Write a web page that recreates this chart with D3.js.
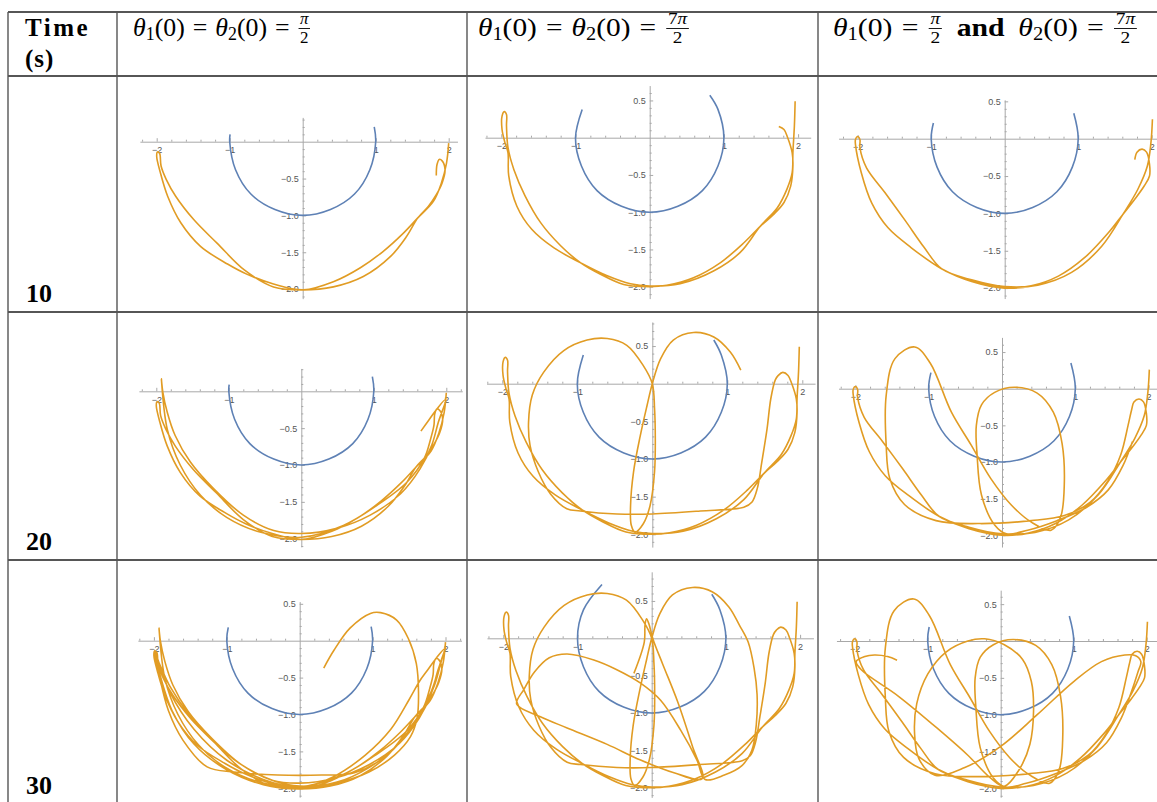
<!DOCTYPE html>
<html>
<head>
<meta charset="utf-8">
<script src="https://cdn.jsdelivr.net/npm/d3@7"></script>
<style>
  body { margin: 0; background: #fff; }
  svg { display: block; }
  .axis text { font-family: "Liberation Sans", Arial, sans-serif; font-size: 9px; fill: #555; }
  .axis path, .axis line { stroke: #a8a8a8; }
</style>
</head>
<body>
<svg id="chart"></svg>
<script>
// ---------- data ----------
const timeLabels = ["10", "20", "30"];

// header cells: [text, style]
const headerCol2 = [["θ","it"],["1","sub"],["(0)",""],["=","rel"],["θ","it"],["2","sub"],["(0)",""],["=","rel"],["π/2","frac"]];
const headerCol3 = [["θ","it"],["1","sub"],["(0)",""],["=","rel"],["θ","it"],["2","sub"],["(0)",""],["=","rel"],["7π/2","frac"]];
const headerCol4 = [["θ","it"],["1","sub"],["(0)",""],["=","rel"],["π/2","frac"],["and","bold"],["θ","it"],["2","sub"],["(0)",""],["=","rel"],["7π/2","frac"]];

// plot ranges of the nine panels (row by row)
const xRanges = [[-2.23,2.12],[-2.22,2.17],[-2.26,2.17],[-2.24,2.22],[-2.21,2.17],[-2.23,2.17],[-2.22,2.22],[-2.22,2.18],[-2.25,2.17]];
const yRanges = [[-2.13,0.33],[-2.16,0.70],[-2.14,0.52],[-2.11,0.31],[-2.17,0.82],[-2.16,0.70],[-2.12,0.53],[-2.13,0.89],[-2.12,0.69]];

// first bob (blue arc), one list per panel
const arcMid = [[-1,0],[-0.92,-0.38],[-0.71,-0.71],[-0.38,-0.92],[0,-1],[0.38,-0.92],[0.71,-0.71],[0.92,-0.38],[1,0]];
const arcEnds = [
  [[[-0.995,0.1]], [[0.98,0.2]]],
  [[[-0.91,0.38]], [[0.92,0.38],[0.81,0.57]]],
  [[[-0.97,0.21]], [[0.94,0.34]]],
  [[[-0.995,0.09]], [[0.98,0.2]]],
  [[[-0.92,0.38]], [[0.92,0.38],[0.82,0.58]]],
  [[[-0.97,0.22]], [[0.94,0.35]]],
  [[[-0.98,0.18]], [[0.98,0.19]]],
  [[[-0.67,0.72],[-0.92,0.38]], [[0.92,0.38],[0.81,0.59]]],
  [[[-0.98,0.19]], [[0.94,0.34]]]
];

// second bob (orange), pieces 0-10 s, 10-20 s, 20-30 s for each column
const pathHalfPi = [
  [[2.00,-0.02],[1.97,-0.29],[1.90,-0.56],[1.79,-0.81],[1.58,-1.03],[1.38,-1.24],[1.10,-1.49],[0.79,-1.71],[0.42,-1.90],[0.01,-2.01],[-0.40,-1.93],[-0.76,-1.80],[-1.03,-1.66],[-1.40,-1.42],[-1.67,-1.10],[-1.85,-0.74],[-1.95,-0.42],[-2.00,-0.20],[-1.99,-0.14],[-1.96,-0.16],[-1.94,-0.33],[-1.87,-0.51],[-1.74,-0.74],[-1.49,-1.06],[-1.17,-1.38],[-0.80,-1.74],[-0.40,-1.97],[0.00,-2.01],[0.42,-1.97],[0.83,-1.83],[1.20,-1.56],[1.42,-1.29],[1.58,-1.03],[1.72,-0.88],[1.83,-0.72],[1.91,-0.56],[1.95,-0.38],[1.91,-0.26],[1.87,-0.24],[1.84,-0.31],[1.83,-0.46]],
  [[1.78,-0.66],[1.70,-0.90],[1.46,-1.23],[1.04,-1.55],[0.58,-1.82],[0.00,-1.98],[-0.57,-1.91],[-1.03,-1.71],[-1.39,-1.41],[-1.67,-1.00],[-1.85,-0.51],[-1.93,0.17],[-1.91,-0.01],[-1.85,-0.28],[-1.74,-0.60],[-1.53,-0.96],[-1.21,-1.32],[-0.80,-1.68],[-0.38,-1.89],[0.00,-1.93],[0.49,-1.86],[0.95,-1.68],[1.37,-1.39],[1.64,-1.05],[1.80,-0.73],[1.89,-0.42],[1.99,-0.11],[1.87,-0.24],[1.76,-0.39],[1.65,-0.54]],
  [[1.50,-0.80],[1.25,-1.20],[0.90,-1.55],[0.45,-1.85],[0.00,-2.00],[-0.50,-1.95],[-1.00,-1.75],[-1.45,-1.40],[-1.75,-0.95],[-1.92,-0.45],[-1.97,-0.22],[-1.93,-0.30],[-1.78,-0.62],[-1.52,-1.00],[-1.20,-1.35],[-0.80,-1.68],[-0.35,-1.90],[0.00,-1.97],[0.50,-1.92],[0.95,-1.72],[1.35,-1.40],[1.65,-1.02],[1.85,-0.60],[1.95,-0.25],[2.00,-0.10],[1.93,-0.30],[1.80,-0.70],[1.55,-1.15],[1.20,-1.55],[0.75,-1.79],[0.30,-1.82],[-0.30,-1.82],[-0.90,-1.78],[-1.27,-1.71],[-1.60,-1.35],[-1.80,-0.95],[-1.93,-0.45],[-1.99,-0.13],[-1.93,-0.30],[-1.78,-0.70],[-1.45,-1.20],[-1.00,-1.62],[-0.50,-1.88],[0.00,-1.99],[0.50,-1.93],[0.95,-1.78],[1.30,-1.55],[1.52,-1.30],[1.61,-1.05],[1.63,-0.71],[1.60,-0.31],[1.49,0.03],[1.33,0.28],[1.11,0.38],[0.97,0.37],[0.69,0.17],[0.47,-0.13],[0.33,-0.37]]
];
const pathSevenHalfPi = [
  [[1.96,0.49],[1.95,0.16],[1.93,-0.20],[1.92,-0.47],[1.85,-0.69],[1.72,-0.94],[1.49,-1.19],[1.22,-1.54],[0.86,-1.79],[0.41,-1.96],[0.00,-1.99],[-0.26,-1.96],[-0.58,-1.85],[-0.93,-1.68],[-1.29,-1.48],[-1.59,-1.23],[-1.79,-0.92],[-1.90,-0.51],[-1.91,-0.20],[-1.95,-0.07],[-1.99,0.11],[-1.99,0.29],[-1.96,0.35],[-1.93,0.31],[-1.93,0.16],[-1.91,-0.13],[-1.83,-0.43],[-1.68,-0.78],[-1.47,-1.14],[-1.20,-1.45],[-0.93,-1.68],[-0.67,-1.83],[-0.35,-1.97],[0.00,-2.00],[0.23,-1.98],[0.59,-1.88],[0.95,-1.68],[1.27,-1.41],[1.49,-1.19],[1.67,-1.03],[1.81,-0.87],[1.90,-0.65],[1.93,-0.38],[1.92,-0.20],[1.86,0.00],[1.81,0.11],[1.74,0.15]],
  [[1.68,0.11],[1.64,0.05],[1.58,-0.20],[1.53,-0.60],[1.46,-1.04],[1.40,-1.39],[1.33,-1.57],[1.22,-1.64],[0.64,-1.69],[0.00,-1.73],[-0.47,-1.73],[-0.96,-1.69],[-1.14,-1.66],[-1.36,-1.46],[-1.52,-1.17],[-1.63,-0.82],[-1.65,-0.51],[-1.60,-0.15],[-1.45,0.15],[-1.18,0.44],[-0.87,0.58],[-0.60,0.60],[-0.34,0.51],[-0.12,0.24],[0.00,0.00],[0.03,-0.33],[0.04,-0.73],[0.03,-1.17],[-0.03,-1.62],[-0.12,-1.86],[-0.23,-1.97],[-0.28,-1.88],[-0.29,-1.62],[-0.25,-1.17],[-0.16,-0.69],[-0.07,-0.29],[0.00,0.00],[0.11,0.33],[0.28,0.58],[0.55,0.68],[0.82,0.62],[1.04,0.42],[1.18,0.18]],
  [[1.30,-0.05],[1.38,-0.40],[1.42,-0.75],[1.41,-1.15],[1.35,-1.50],[1.22,-1.70],[0.98,-1.83],[0.72,-1.89],[0.61,-1.63],[0.39,-1.23],[0.12,-0.83],[-0.15,-0.60],[-0.47,-0.42],[-0.78,-0.29],[-1.14,-0.21],[-1.38,-0.26],[-1.58,-0.45],[-1.72,-0.68],[-1.82,-0.88],[-1.50,-1.05],[-1.14,-1.20],[-0.60,-1.42],[-0.15,-1.63],[0.30,-1.80],[0.68,-1.88],[0.55,-1.45],[0.35,-0.85],[0.15,-0.35],[0.02,-0.02],[-0.04,0.20],[-0.07,0.26],[-0.09,0.18],[-0.10,-0.05],[-0.24,-0.47]]
];
const pathMixed = [
  [[2.01,0.26],[1.99,-0.05],[1.94,-0.37],[1.81,-0.68],[1.61,-1.01],[1.32,-1.44],[0.91,-1.79],[0.45,-1.96],[0.00,-1.98],[-0.45,-1.89],[-0.86,-1.74],[-1.10,-1.45],[-1.35,-1.10],[-1.63,-0.72],[-1.88,-0.39],[-1.97,-0.12],[-1.97,-0.01],[-2.00,0.03],[-2.03,-0.01],[-2.03,-0.08],[-1.95,-0.46],[-1.81,-0.86],[-1.59,-1.19],[-1.27,-1.46],[-0.86,-1.74],[-0.45,-1.91],[0.00,-2.00],[0.36,-1.97],[0.73,-1.84],[1.09,-1.59],[1.41,-1.26],[1.61,-1.01],[1.77,-0.81],[1.90,-0.63],[1.97,-0.50],[1.97,-0.34],[1.93,-0.18],[1.87,-0.14],[1.80,-0.18],[1.77,-0.28]],
  [[1.72,-0.50],[1.62,-0.90],[1.45,-1.25],[1.20,-1.55],[0.85,-1.73],[0.40,-1.80],[-0.30,-1.84],[-0.90,-1.80],[-1.33,-1.58],[-1.53,-1.23],[-1.58,-0.77],[-1.58,-0.09],[-1.46,0.41],[-1.19,0.57],[-0.98,0.35],[-0.69,-0.32],[-0.42,-0.77],[-0.15,-1.23],[0.13,-1.59],[0.40,-1.82],[0.67,-1.93],[0.80,-1.75],[0.85,-1.30],[0.82,-0.75],[0.70,-0.32],[0.48,-0.06],[0.17,0.02],[-0.10,-0.05],[-0.28,-0.22],[-0.35,-0.50],[-0.34,-0.90],[-0.28,-1.45],[-0.10,-1.86],[0.06,-1.98],[0.35,-1.93],[0.75,-1.80],[1.15,-1.62],[1.45,-1.38],[1.65,-1.05],[1.78,-0.72]],
  [[1.88,-0.42],[1.92,-0.28],[1.85,-0.20],[1.70,-0.19],[1.38,-0.28],[1.00,-0.55],[0.50,-1.00],[0.00,-1.43],[-0.50,-1.72],[-0.90,-1.82],[-1.12,-1.60],[-1.18,-1.25],[-1.15,-0.85],[-1.00,-0.45],[-0.75,-0.15],[-0.45,0.00],[-0.22,0.03],[0.05,-0.05],[0.30,-0.25],[0.42,-0.55],[0.45,-0.95],[0.40,-1.40],[0.25,-1.75],[0.05,-1.97],[-0.15,-1.85],[-0.45,-1.55],[-0.85,-1.20],[-1.40,-0.75],[-1.91,-0.39],[-1.98,-0.28],[-1.86,-0.21],[-1.73,-0.19],[-1.55,-0.21],[-1.42,-0.26]]
];
const columnPaths = [pathHalfPi, pathSevenHalfPi, pathMixed];

// ---------- layout ----------
const W = 1157, H = 802;
const colX = [8, 117, 467, 818, 1170];
const rowY = [12, 76, 312, 560, 812];
// origin and unit length (px) of each panel
const panelLayout = [
  {ox: 302.7, oy: 141.7, ux: 73.0, uy: 73.7},
  {ox: 649.7, oy: 137.7, ux: 74.2, uy: 74.5},
  {ox: 1004.7, oy: 138.7, ux: 73.5, uy: 74.7},
  {ox: 301.3, oy: 391.3, ux: 72.5, uy: 73.7},
  {ox: 652.3, oy: 383.7, ux: 75.0, uy: 75.3},
  {ox: 1002.0, oy: 388.7, ux: 73.3, uy: 73.3},
  {ox: 299.7, oy: 640.7, ux: 72.9, uy: 73.8},
  {ox: 651.7, oy: 638.3, ux: 74.2, uy: 74.7},
  {ox: 1000.7, oy: 641.0, ux: 73.0, uy: 73.7}
];
// header start x and width in the picture
const headerBoxes = [[133, 178], [478, 212], [833, 305]];
const blue = "#5e81b5", orange = "#e19c24";
const serif = "'Liberation Serif', 'Times New Roman', serif";

const svg = d3.select("#chart").attr("width", W).attr("height", H);
const defs = svg.append("defs");

// ---------- header text ----------
function drawMath(g, x, y, pieces) {
  let cx = x;
  pieces.forEach(([t, st]) => {
    if (st === "frac") {
      const [num, den] = t.split("/");
      const fg = g.append("g");
      const n = fg.append("text").attr("font-size", 17).attr("font-family", serif);
      num.split("").forEach(ch => n.append("tspan").attr("font-style", ch === "π" ? "italic" : "normal").text(ch));
      const d = fg.append("text").attr("font-size", 17).attr("font-family", serif).text(den);
      const wn = n.node().getComputedTextLength(), wd = d.node().getComputedTextLength();
      const w = Math.max(wn, wd) + 3;
      cx += 1;
      n.attr("x", cx + (w - wn) / 2).attr("y", y - 11.5);
      d.attr("x", cx + (w - wd) / 2).attr("y", y + 7);
      fg.append("line").attr("x1", cx).attr("x2", cx + w)
        .attr("y1", y - 7.5).attr("y2", y - 7.5).attr("stroke", "#000").attr("stroke-width", 0.9);
      cx += w + 1;
      return;
    }
    const gap = st === "rel" ? 8 : st === "bold" ? 12 : 0;
    cx += gap;
    const el = g.append("text")
      .attr("x", cx).attr("y", st === "sub" ? y + 4.5 : y)
      .attr("font-family", serif)
      .attr("font-size", st === "sub" ? 18 : 26)
      .attr("font-style", st === "it" ? "italic" : "normal")
      .attr("font-weight", st === "bold" ? "bold" : "normal")
      .text(t);
    cx += el.node().getComputedTextLength() + gap;
  });
  return cx - x;
}

const head = svg.append("g").attr("fill", "#000");
head.append("text").attr("x", 25).attr("y", 36).attr("font-family", serif)
  .attr("font-weight", "bold").attr("font-size", 25).attr("letter-spacing", 2.5).text("Time");
head.append("text").attr("x", 25).attr("y", 67).attr("font-family", serif)
  .attr("font-weight", "bold").attr("font-size", 25).attr("letter-spacing", 1).text("(s)");
[headerCol2, headerCol3, headerCol4].forEach((pieces, k) => {
  const [hx, hw] = headerBoxes[k];
  const hg = head.append("g");
  const w = drawMath(hg, hx, 36, pieces);
  hg.attr("transform", `translate(${hx},0) scale(${hw / w},1) translate(${-hx},0)`);
});

timeLabels.forEach((lab, r) => {
  head.append("text").attr("x", 26).attr("y", Math.min(rowY[r + 2] - 10, 794))
    .attr("font-family", serif).attr("font-weight", "bold").attr("font-size", 26).text(lab);
});

// ---------- panels ----------
const lineGen = d3.line().curve(d3.curveCatmullRom.alpha(0.5));

for (let r = 0; r < 3; r++) {
  for (let c = 0; c < 3; c++) {
    const i = r * 3 + c;
    const L = panelLayout[i];
    const [x0, x1] = xRanges[i], [y0, y1] = yRanges[i];
    const xs = d3.scaleLinear().domain([x0, x1]).range([L.ox + x0 * L.ux, L.ox + x1 * L.ux]);
    const ys = d3.scaleLinear().domain([y0, y1]).range([L.oy - y0 * L.uy, L.oy - y1 * L.uy]);

    defs.append("clipPath").attr("id", "clip" + i).append("rect")
      .attr("x", colX[c + 1] + 1).attr("y", rowY[r + 1] + 1)
      .attr("width", colX[c + 2] - colX[c + 1] - 2).attr("height", rowY[r + 2] - rowY[r + 1] - 2);
    const g = svg.append("g").attr("clip-path", `url(#clip${i})`);

    // x axis: minor ticks every 0.2, labelled ticks on integers
    const xMinor = d3.range(-22, 23, 2).map(v => v / 10).filter(v => v > x0 && v < x1 && Math.abs(v % 1) > 0.01);
    const xMajor = [-2, -1, 1, 2].filter(v => v > x0 && v < x1);
    g.append("g").attr("class", "axis").attr("transform", `translate(0,${ys(0)})`)
      .call(d3.axisBottom(xs).tickValues(xMinor).tickSize(-2).tickSizeOuter(0).tickFormat(""));
    g.append("g").attr("class", "axis").attr("transform", `translate(0,${ys(0)})`)
      .call(d3.axisBottom(xs).tickValues(xMajor).tickSize(-3.5).tickSizeOuter(0).tickPadding(5).tickFormat(d3.format("d")))
      .call(a => a.select(".domain").remove());

    // y axis: minor ticks every 0.1, labelled ticks every 0.5
    const yMinor = d3.range(-22, 10).map(v => v / 10).filter(v => v > y0 && v < y1 && Math.abs((v * 2) % 1) > 0.01);
    const yMajor = [0.5, -0.5, -1, -1.5, -2].filter(v => v > y0 && v < y1);
    g.append("g").attr("class", "axis").attr("transform", `translate(${xs(0)},0)`)
      .call(d3.axisLeft(ys).tickValues(yMinor).tickSize(-2).tickSizeOuter(0).tickFormat(""));
    g.append("g").attr("class", "axis").attr("transform", `translate(${xs(0)},0)`)
      .call(d3.axisLeft(ys).tickValues(yMajor).tickSize(-3.5).tickSizeOuter(0).tickPadding(4).tickFormat(d3.format(".1f")))
      .call(a => a.select(".domain").remove());

    lineGen.x(d => xs(d[0])).y(d => ys(d[1]));

    // blue: first bob
    const arc = [...arcEnds[i][0], ...arcMid, ...arcEnds[i][1]];
    g.append("path").attr("d", lineGen(arc))
      .attr("fill", "none").attr("stroke", blue).attr("stroke-width", 1.6);

    // orange: second bob, 0..(r+1)*10 s
    const pts = columnPaths[c].slice(0, r + 1).flat();
    g.append("path").attr("d", lineGen(pts))
      .attr("fill", "none").attr("stroke", orange).attr("stroke-width", 1.6)
      .attr("stroke-linejoin", "round");
  }
}

// ---------- table rules ----------
const rules = svg.append("g").attr("stroke-width", 1.4);
rowY.slice(0, 4).forEach(y => {
  rules.append("line").attr("x1", colX[0]).attr("x2", W).attr("y1", y).attr("y2", y).attr("stroke", "#1e1e1e");
});
colX.slice(0, 4).forEach(x => {
  rules.append("line").attr("x1", x).attr("x2", x).attr("y1", rowY[0]).attr("y2", H).attr("stroke", "#555");
});
</script>
</body>
</html>
